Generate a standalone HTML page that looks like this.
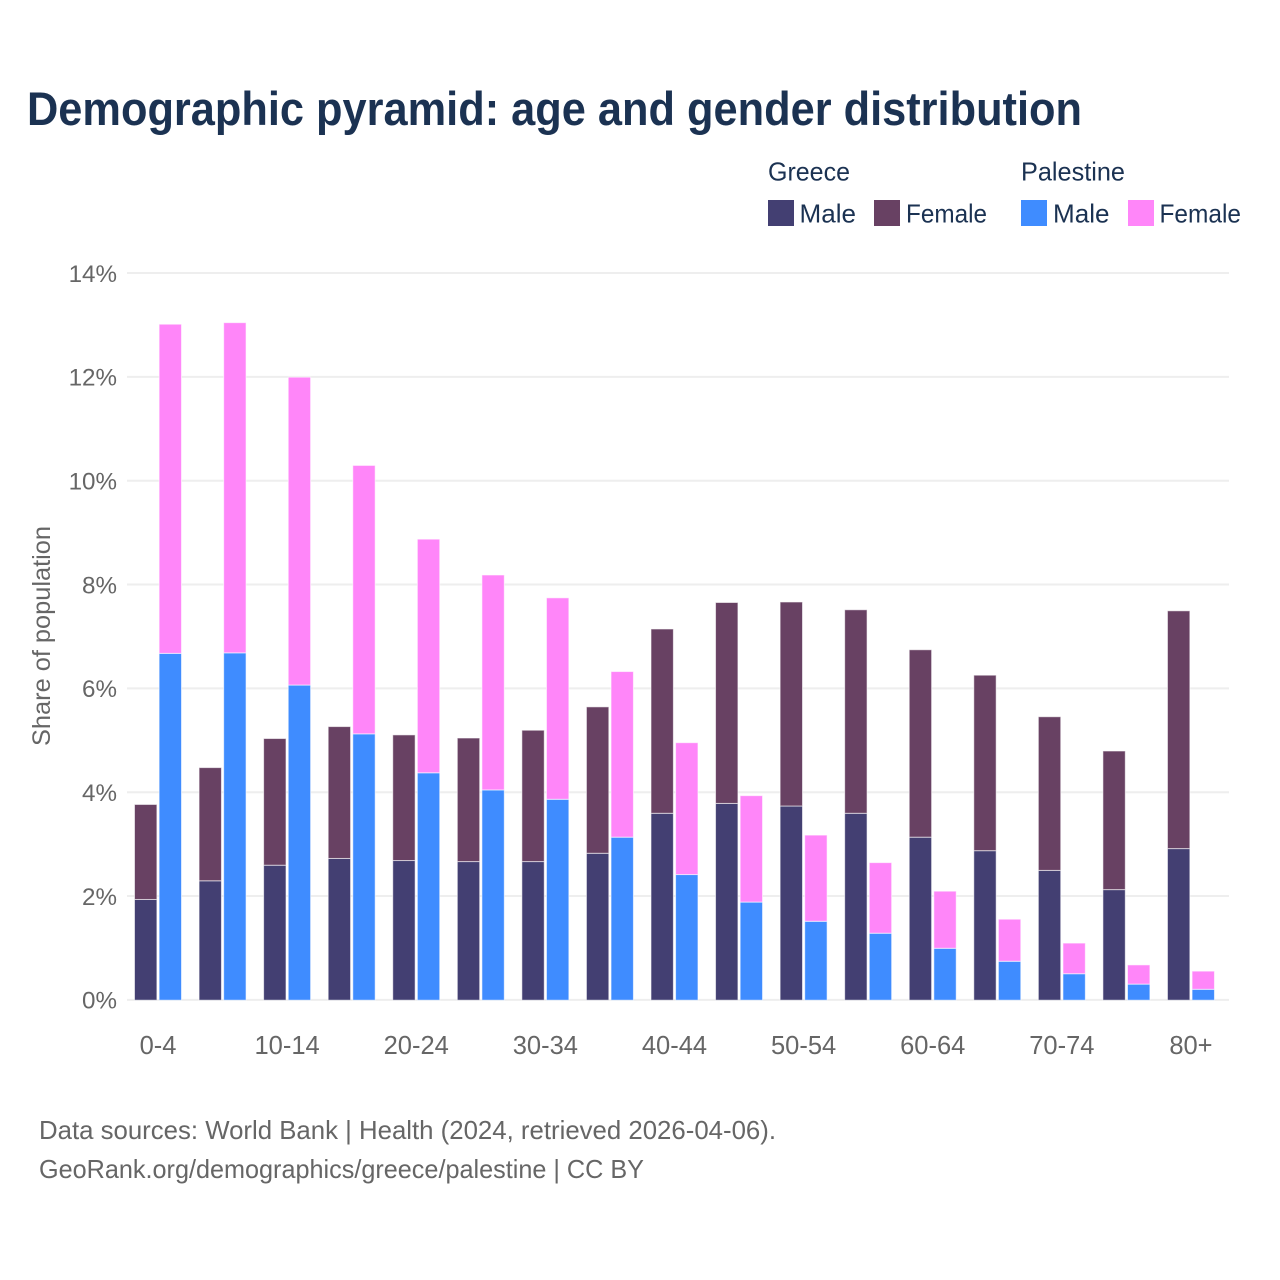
<!DOCTYPE html>
<html lang="en">
<head>
<meta charset="utf-8">
<title>Demographic pyramid: age and gender distribution</title>
<style>
html,body{margin:0;padding:0;background:#fff;}
svg{display:block;font-family:"Liberation Sans",sans-serif;}
</style>
</head>
<body>
<svg id="chart" width="1280" height="1280" viewBox="0 0 1280 1280" xmlns="http://www.w3.org/2000/svg">
  <rect x="0" y="0" width="1280" height="1280" fill="#fff"></rect>
  <text x="27" y="125" font-size="47" font-weight="700" fill="#1b3252" textLength="1055" lengthAdjust="spacingAndGlyphs">Demographic pyramid: age and gender distribution</text>

  <g id="legend" font-size="26" fill="#1b3252">
    <text x="768" y="180.5" textLength="82" lengthAdjust="spacingAndGlyphs">Greece</text>
    <text x="1021" y="180.5" textLength="104" lengthAdjust="spacingAndGlyphs">Palestine</text>
    <rect x="768" y="200" width="26" height="26" fill="#433f72"></rect>
    <text x="799.5" y="222.5" textLength="56.5" lengthAdjust="spacingAndGlyphs">Male</text>
    <rect x="874" y="200" width="26" height="26" fill="#684163"></rect>
    <text x="906" y="222.5" textLength="81" lengthAdjust="spacingAndGlyphs">Female</text>
    <rect x="1021" y="200" width="26" height="26" fill="#3f8cff"></rect>
    <text x="1053" y="222.5" textLength="56.5" lengthAdjust="spacingAndGlyphs">Male</text>
    <rect x="1128" y="200" width="26" height="26" fill="#ff86f9"></rect>
    <text x="1159.5" y="222.5" textLength="81.5" lengthAdjust="spacingAndGlyphs">Female</text>
  </g>

  <g id="grid"></g>
  <g id="bars"></g>
  <g id="yticks"></g>
  <g id="xticks"></g>

  <text transform="translate(50,636) rotate(-90)" text-anchor="middle" font-size="25" fill="#666666" textLength="220" lengthAdjust="spacingAndGlyphs">Share of population</text>

  <text x="39" y="1139" font-size="26" fill="#666666" textLength="737" lengthAdjust="spacingAndGlyphs">Data sources: World Bank | Health (2024, retrieved 2026-04-06).</text>
  <text x="39" y="1178" font-size="26" fill="#666666" textLength="605" lengthAdjust="spacingAndGlyphs">GeoRank.org/demographics/greece/palestine | CC BY</text>
</svg>
<script>
const categories = ["0-4","5-9","10-14","15-19","20-24","25-29","30-34","35-39","40-44","45-49","50-54","55-59","60-64","65-69","70-74","75-79","80+"];
const tickLabels = ["0-4","10-14","20-24","30-34","40-44","50-54","60-64","70-74","80+"];
const yTicks = [0,2,4,6,8,10,12,14];
const greeceMale = [1.94,2.30,2.60,2.73,2.69,2.67,2.67,2.83,3.60,3.79,3.74,3.60,3.14,2.88,2.50,2.13,2.92];
const greeceFemale = [1.83,2.18,2.44,2.54,2.42,2.38,2.53,2.82,3.55,3.87,3.93,3.92,3.61,3.38,2.96,2.67,4.58];
const palestineMale = [6.68,6.69,6.07,5.13,4.38,4.05,3.87,3.14,2.42,1.89,1.52,1.29,1.00,0.75,0.51,0.31,0.21];
const palestineFemale = [6.34,6.36,5.93,5.17,4.50,4.14,3.88,3.19,2.54,2.05,1.66,1.36,1.10,0.81,0.59,0.37,0.35];

const NS = "http://www.w3.org/2000/svg";
const yBase = 1000.2, yUnit = 51.92;
const xFirst = 158, xStep = 64.56, barW = 22.4, barGap = 2.2;
function yScale(v){ return yBase - v * yUnit; }
function xCenter(i){ return xFirst + i * xStep; }

const gridG = document.getElementById("grid");
const yG = document.getElementById("yticks");
yTicks.forEach(function(t){
  const line = document.createElementNS(NS,"line");
  line.setAttribute("x1",127);
  line.setAttribute("x2",1229);
  line.setAttribute("y1",yScale(t)-0.3);
  line.setAttribute("y2",yScale(t)-0.3);
  line.setAttribute("stroke","#eeeeee");
  line.setAttribute("stroke-width",2);
  
  
  gridG.appendChild(line);
  const label = document.createElementNS(NS,"text");
  label.setAttribute("x",117);
  label.setAttribute("y",yScale(t)+8.5);
  label.setAttribute("text-anchor","end");
  label.setAttribute("font-size",24.2);
  label.setAttribute("fill","#666666");
  
  
  label.textContent = t + "%";
  yG.appendChild(label);
});

const xG = document.getElementById("xticks");
tickLabels.forEach(function(name){
  const i = categories.indexOf(name);
  const label = document.createElementNS(NS,"text");
  label.setAttribute("x",xCenter(i));
  label.setAttribute("y",1054);
  label.setAttribute("text-anchor","middle");
  label.setAttribute("font-size",25.5);
  label.setAttribute("fill","#666666");
  
  
  label.textContent = name;
  xG.appendChild(label);
});

const barsG = document.getElementById("bars");
function addBar(x, bottom, value, color, name){
  const r = document.createElementNS(NS,"rect");
  r.setAttribute("x",x);
  r.setAttribute("y",yScale(bottom+value));
  r.setAttribute("width",barW);
  r.setAttribute("height",value*yUnit);
  r.setAttribute("fill",color);
  r.setAttribute("stroke","#ffffff");
  r.setAttribute("stroke-opacity","0.6");
  r.setAttribute("stroke-width","1");
  
  
  barsG.appendChild(r);
}
categories.forEach(function(c,i){
  const xL = xCenter(i) - barGap/2 - barW;
  const xR = xCenter(i) + barGap/2;
  addBar(xL, 0, greeceMale[i], "#433f72", "bar-greece-male");
  addBar(xL, greeceMale[i], greeceFemale[i], "#684163", "bar-greece-female");
  addBar(xR, 0, palestineMale[i], "#3f8cff", "bar-palestine-male");
  addBar(xR, palestineMale[i], palestineFemale[i], "#ff86f9", "bar-palestine-female");
});
</script>
</body>
</html>
